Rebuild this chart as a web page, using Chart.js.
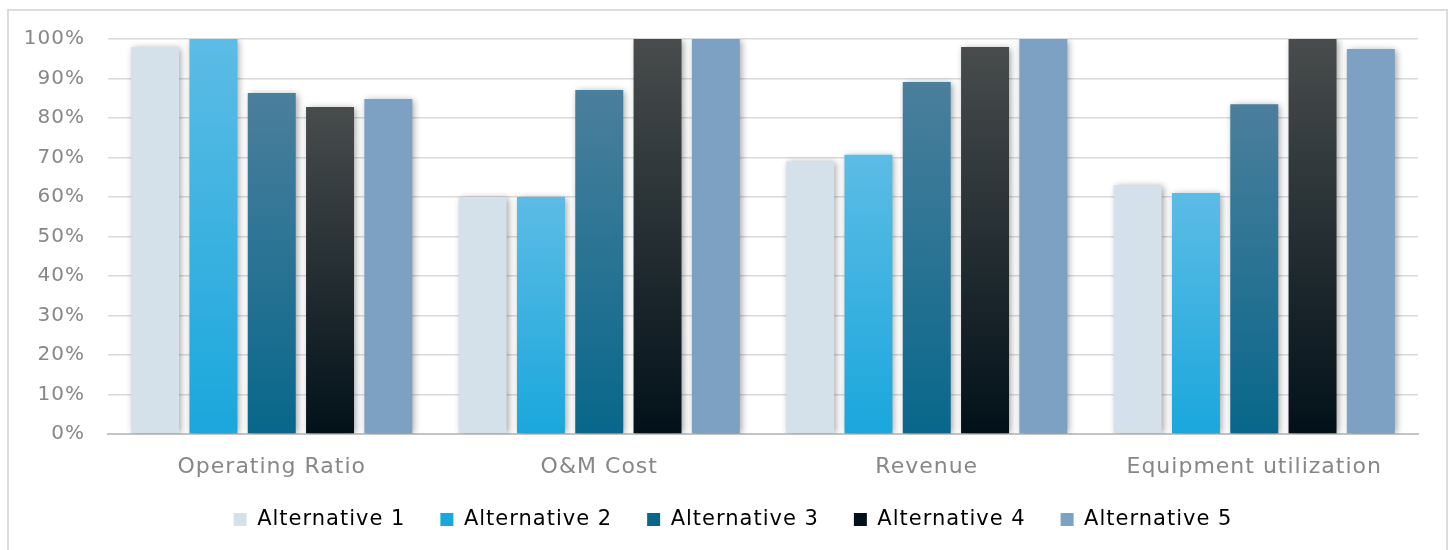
<!DOCTYPE html>
<html>
<head>
<meta charset="utf-8">
<script src="https://cdn.jsdelivr.net/npm/chart.js@4/dist/chart.umd.min.js"></script>
<style>
  html, body { margin: 0; padding: 0; background: #ffffff; }
  #wrap { position: relative; width: 1450px; height: 550px; overflow: hidden; }
  #frame { position: absolute; left: 7px; top: 9px; width: 1441px; height: 600px; border: 2px solid #dcdcdc; box-sizing: border-box; }
  canvas { position: absolute; left: 0; top: 0; }
</style>
</head>
<body>
<div id="wrap">
  <div id="frame"></div>
  <canvas id="c" width="1450" height="550"></canvas>
</div>
<script>
const categories = ['Operating Ratio', 'O&M Cost', 'Revenue', 'Equipment utilization'];
const seriesNames = ['Alternative 1', 'Alternative 2', 'Alternative 3', 'Alternative 4', 'Alternative 5'];
const alt1 = [98, 60, 69, 63];
const alt2 = [100, 60, 70.7, 61];
const alt3 = [86.3, 87.1, 89.1, 83.5];
const alt4 = [82.8, 100, 98, 100];
const alt5 = [84.8, 100, 100, 97.5];
const yTicks = [0, 10, 20, 30, 40, 50, 60, 70, 80, 90, 100];

// [top colour, bottom colour]
const palette = [
  ['#d4e0ea', '#d4e0ea'],
  ['#5cbce5', '#1aa7dc'],
  ['#4b7f9c', '#08678b'],
  ['#484c4d', '#021119'],
  ['#7da1c3', '#7da1c3']
];

function barFill(i) {
  return function (ctx) {
    const chart = ctx.chart;
    const c = palette[i];
    if (!chart.chartArea || ctx.type !== 'data') return c[1];
    const y = chart.scales.y;
    const top = y.getPixelForValue(ctx.raw);
    const bottom = y.getPixelForValue(0);
    if (!isFinite(top) || !isFinite(bottom) || top === bottom) return c[1];
    const g = chart.ctx.createLinearGradient(0, top, 0, bottom);
    g.addColorStop(0, c[0]);
    g.addColorStop(1, c[1]);
    return g;
  };
}

const allSeries = [alt1, alt2, alt3, alt4, alt5];
const datasets = allSeries.map((d, i) => ({
  label: seriesNames[i],
  data: d,
  backgroundColor: barFill(i),
  borderWidth: 0,
  barPercentage: 0.823,
  categoryPercentage: 0.89
}));

const shadowPlugin = {
  id: 'shadow',
  beforeDatasetsDraw(chart) {
    const ctx = chart.ctx;
    ctx.save();
    ctx.shadowColor = 'rgba(0,0,0,0.38)';
    ctx.shadowBlur = 7;
    ctx.shadowOffsetX = 2;
    ctx.shadowOffsetY = 1;
  },
  afterDatasetsDraw(chart) {
    chart.ctx.restore();
  }
};

const spacingPlugin = {
  id: 'spacing',
  afterInit(chart) { chart.ctx.letterSpacing = '1px'; },
  beforeUpdate(chart) { chart.ctx.letterSpacing = '1px'; },
  beforeDraw(chart) { chart.ctx.letterSpacing = '1px'; }
};

// nudge the legend box to where the reference shows it
const legendPlace = {
  id: 'legendPlace',
  afterLayout(chart) {
    const lg = chart.legend;
    if (!lg) return;
    const h = lg.height;
    lg.top = 474;
    lg.bottom = 474 + h;
    lg.left += 19;
    lg.right += 19;
  }
};

const FONT = "'DejaVu Sans', sans-serif";
const TXT = '#878787';

new Chart(document.getElementById('c'), {
  type: 'bar',
  data: { labels: categories, datasets: datasets },
  plugins: [spacingPlugin, shadowPlugin, legendPlace],
  options: {
    responsive: false,
    animation: false,
    layout: { padding: { left: 10, right: 32, top: 39, bottom: 8 } },
    plugins: {
      tooltip: { enabled: false },
      legend: {
        position: 'bottom',
        maxHeight: 60,
        labels: {
          color: TXT,
          font: { family: FONT, size: 21 },
          boxWidth: 13,
          boxHeight: 13,
          padding: 35,
          generateLabels(chart) {
            return chart.data.datasets.map((ds, i) => ({
              text: ds.label,
              fillStyle: palette[i][1],
              strokeStyle: 'rgba(0,0,0,0)',
              lineWidth: 0,
              hidden: false,
              datasetIndex: i
            }));
          }
        }
      }
    },
    scales: {
      x: {
        afterFit(scale) { scale.height = 48; },
        grid: { display: false, drawTicks: false },
        border: { display: true, color: '#c4c4c4', width: 2 },
        ticks: { color: TXT, font: { family: FONT, size: 22 }, padding: 20, maxRotation: 0 }
      },
      y: {
        min: 0,
        max: 100,
        afterFit(scale) { scale.width = 98; },
        afterBuildTicks(scale) { scale.ticks = yTicks.map(v => ({ value: v })); },
        grid: { color: '#dadada', lineWidth: 1.5, drawTicks: false },
        border: { display: false },
        ticks: {
          color: TXT,
          font: { family: FONT, size: 20 },
          padding: 23,
          callback: v => v + '%'
        }
      }
    }
  }
});
</script>
</body>
</html>
